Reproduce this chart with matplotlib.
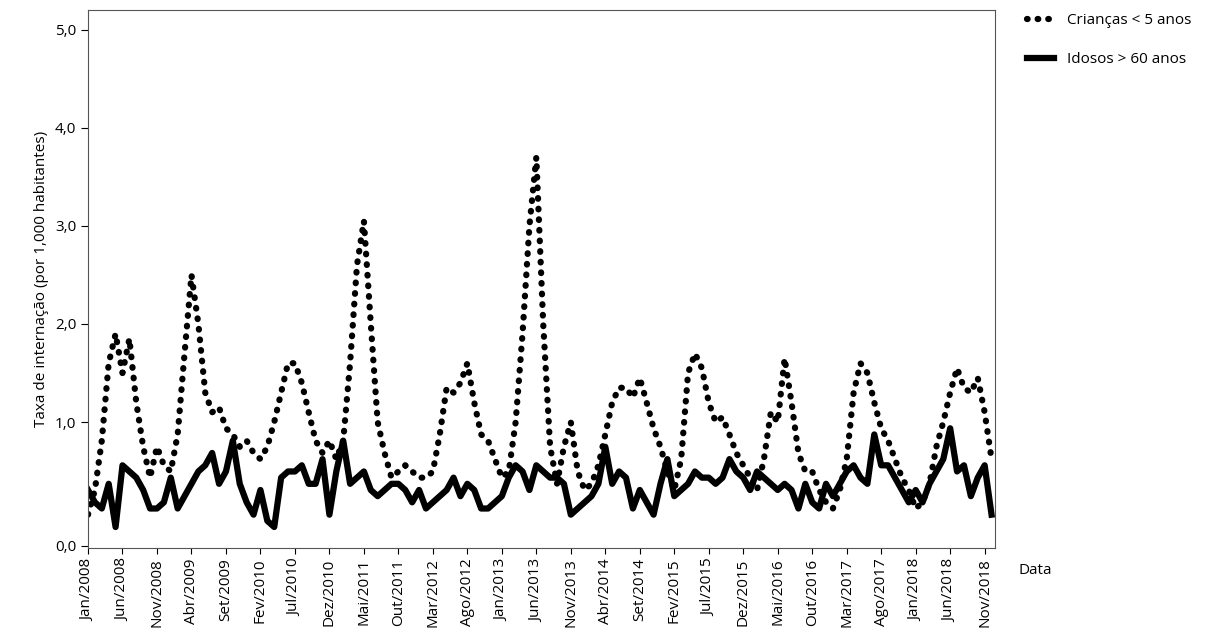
import matplotlib
matplotlib.use("Agg")
import matplotlib.pyplot as plt
import numpy as np

plt.rcParams['font.family'] = ['Open Sans', 'DejaVu Sans']

criancas = [0.25,0.45,0.85,1.6,1.9,1.5,1.85,1.2,0.8,0.55,0.8,0.65,
            0.6,0.9,1.7,2.5,2.0,1.3,1.1,1.15,0.95,0.9,0.8,0.85,
            0.75,0.7,0.8,1.0,1.3,1.6,1.6,1.4,1.1,0.85,0.75,0.85,
            0.7,0.85,1.6,2.6,3.05,2.0,1.0,0.75,0.55,0.6,0.65,0.6,
            0.55,0.55,0.6,0.9,1.35,1.3,1.4,1.6,1.2,0.9,0.85,0.7,
            0.55,0.6,1.0,1.9,3.0,3.7,2.0,0.8,0.5,0.8,1.0,0.6,
            0.45,0.5,0.65,0.9,1.2,1.35,1.35,1.25,1.45,1.2,0.95,0.8,
            0.6,0.45,0.7,1.5,1.7,1.55,1.2,1.0,1.05,0.9,0.75,0.65,
            0.55,0.45,0.7,1.1,1.0,1.65,1.2,0.75,0.6,0.6,0.45,0.35,
            0.3,0.45,0.7,1.3,1.6,1.5,1.2,0.95,0.85,0.7,0.55,0.45,
            0.3,0.35,0.5,0.8,1.0,1.3,1.55,1.35,1.3,1.45,1.1,0.7]
idosos = [0.45,0.35,0.3,0.5,0.15,0.65,0.6,0.55,0.45,0.3,0.3,0.35,
          0.55,0.3,0.4,0.5,0.6,0.65,0.75,0.5,0.6,0.85,0.5,0.35,
          0.25,0.45,0.2,0.15,0.55,0.6,0.6,0.65,0.5,0.5,0.7,0.25,
          0.6,0.85,0.5,0.55,0.6,0.45,0.4,0.45,0.5,0.5,0.45,0.35,
          0.45,0.3,0.35,0.4,0.45,0.55,0.4,0.5,0.45,0.3,0.3,0.35,
          0.4,0.55,0.65,0.6,0.45,0.65,0.6,0.55,0.55,0.5,0.25,0.3,
          0.35,0.4,0.5,0.8,0.5,0.6,0.55,0.3,0.45,0.35,0.25,0.5,
          0.7,0.4,0.45,0.5,0.6,0.55,0.55,0.5,0.55,0.7,0.6,0.55,
          0.45,0.6,0.55,0.5,0.45,0.5,0.45,0.3,0.5,0.35,0.3,0.5,
          0.4,0.5,0.6,0.65,0.55,0.5,0.9,0.65,0.65,0.55,0.45,0.35,
          0.45,0.35,0.5,0.6,0.7,0.95,0.6,0.65,0.4,0.55,0.65,0.25]
tick_labels = ['Jan/2008','Jun/2008','Nov/2008','Abr/2009','Set/2009','Fev/2010','Jul/2010',
               'Dez/2010','Mai/2011','Out/2011','Mar/2012','Ago/2012','Jan/2013','Jun/2013',
               'Nov/2013','Abr/2014','Set/2014','Fev/2015','Jul/2015','Dez/2015','Mai/2016',
               'Out/2016','Mar/2017','Ago/2017','Jan/2018','Jun/2018','Nov/2018']
ytick_vals = [0, 1, 2, 3, 4, 5]
ytick_labels = ['0,0', '1,0', '2,0', '3,0', '4,0', '5,0']

K = 1.258
def fwd(y):
    y = np.asarray(y, dtype=float)
    return np.where(y < 1, y * K, K + (y - 1))
def inv(v):
    v = np.asarray(v, dtype=float)
    return np.where(v < K, v / K, 1 + (v - K))

fig = plt.figure(figsize=(12.1, 6.35), dpi=100)
ax = fig.add_axes([88/1210, 87/635, 907/1210, 538/635])
x = np.arange(len(criancas))
ax.plot(x, criancas, color='black', linestyle=(0, (0.1, 1.6)), linewidth=4.5,
        dash_capstyle='round', label='Crianças < 5 anos')
ax.plot(x, idosos, color='black', linestyle='-', linewidth=4.5, label='Idosos > 60 anos')
ax.set_yscale('function', functions=(fwd, inv))
ax.set_ylim(-0.02, 5.2)
ax.set_xlim(0, 131.5)
ax.set_yticks(ytick_vals)
ax.set_yticklabels(ytick_labels, fontsize=11)
ax.set_xticks(np.arange(0, 131, 5))
ax.set_xticklabels(tick_labels, rotation=90, fontsize=11)
ax.tick_params(axis='y', length=5, direction='out')
ax.tick_params(axis='x', length=4)
for s in ax.spines.values():
    s.set_color('#555555')
ax.set_ylabel('Taxa de internação (por 1,000 habitantes)', fontsize=11)
fig.text(1018/1210, 1-571/635, 'Data', fontsize=11, va='center')
ax.legend(loc='upper left', bbox_to_anchor=(1.02, 1.02), frameon=False, fontsize=11,
          handlelength=1.8, labelspacing=1.6)
fig.savefig('out.png', dpi=100)
